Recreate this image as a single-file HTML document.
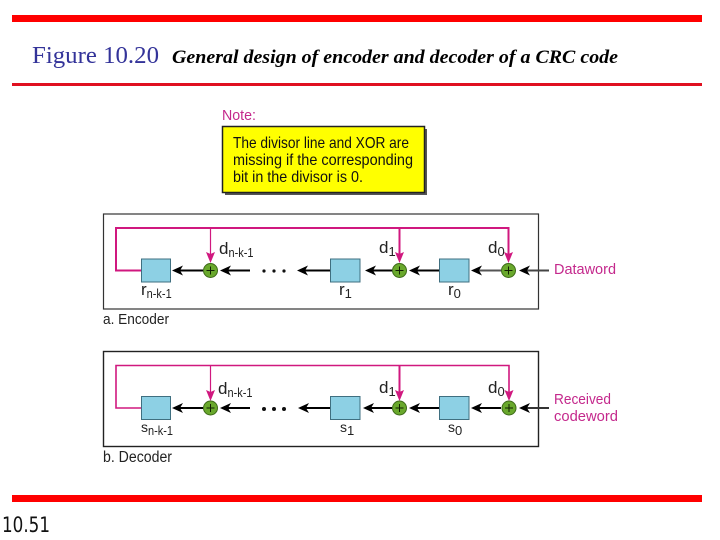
<!DOCTYPE html>
<html>
<head>
<meta charset="utf-8">
<style>
html,body{margin:0;padding:0;background:#fff}
svg{display:block}
.s{font-family:"Liberation Sans",sans-serif}
</style>
</head>
<body>
<svg width="720" height="540" viewBox="0 0 720 540" xmlns="http://www.w3.org/2000/svg">
<rect width="720" height="540" fill="#fff"/>
<rect x="12" y="15" width="690" height="7" fill="#f00"/>
<rect x="12" y="83" width="690" height="3" fill="#e01020"/>
<rect x="12" y="495" width="690" height="7" fill="#f00"/>
<text x="32" y="63" font-family="Liberation Serif,serif" font-size="24" fill="#333399" textLength="127" lengthAdjust="spacingAndGlyphs">Figure 10.20</text>
<text x="172" y="63" font-family="Liberation Serif,serif" font-size="19" font-weight="bold" font-style="italic" fill="#000" textLength="446" lengthAdjust="spacingAndGlyphs">General design of encoder and decoder of a CRC code</text>
<text x="2" y="532" font-family="DejaVu Sans,sans-serif" font-size="21" fill="#111" textLength="48" lengthAdjust="spacingAndGlyphs">10.51</text>

<text class="s" x="222" y="120" font-size="15" fill="#c4288c" textLength="34" lengthAdjust="spacingAndGlyphs">Note:</text>
<rect x="225" y="129" width="202" height="66" fill="#555"/>
<rect x="222.500" y="126.500" width="202" height="66" fill="#ffff00" stroke="#222" stroke-width="1.500"/>
<g class="s" font-size="16" fill="#111">
<text x="233" y="148" textLength="176" lengthAdjust="spacingAndGlyphs">The divisor line and XOR are</text>
<text x="233" y="165" textLength="180" lengthAdjust="spacingAndGlyphs">missing if the corresponding</text>
<text x="233" y="182" textLength="130" lengthAdjust="spacingAndGlyphs">bit in the divisor is 0.</text>
</g>

<!-- Encoder -->
<rect x="103.500" y="214" width="435" height="95" fill="#fff" stroke="#333" stroke-width="1.200"/>
<g fill="none" stroke="#d0187f">
<path d="M141 270.500H116V228H508.500V254" stroke-width="2"/>
<path d="M210.500 228V254" stroke-width="1.200"/>
<path d="M399.500 228V254" stroke-width="2"/>
</g>
<g fill="#d0187f">
<path d="M206 252L210.500 263L215 252L210.500 254Z"/>
<path d="M395 252L399.500 263L404 252L399.500 254Z"/>
<path d="M504 252L508.500 263L513 252L508.500 254Z"/>
</g>
<g stroke="#000" stroke-width="2" fill="none">
<path d="M203 270.500H178"/>
<path d="M250 270.500H226"/>
<path d="M330 270.500H304"/>
<path d="M392 270.500H370"/>
<path d="M439 270.500H414"/>
<path d="M501 270.500H476" stroke="#555"/>
<path d="M549 270.500H524" stroke="#444"/>
</g>
<g fill="#000">
<path d="M172 270.500L183 265.500L180 270.500L183 275.500Z"/>
<path d="M220 270.500L231 265.500L228 270.500L231 275.500Z"/>
<path d="M297 270.500L308 265.500L305 270.500L308 275.500Z"/>
<path d="M365 270.500L376 265.500L373 270.500L376 275.500Z"/>
<path d="M409 270.500L420 265.500L417 270.500L420 275.500Z"/>
<path d="M471 270.500L482 265.500L479 270.500L482 275.500Z"/>
<path d="M519 270.500L530 265.500L527 270.500L530 275.500Z"/>
</g>
<g fill="#8dd0e4" stroke="#3f6f80">
<rect x="141.500" y="259" width="29" height="23"/>
<rect x="330.500" y="259" width="29.500" height="23"/>
<rect x="439.500" y="259" width="29.500" height="23"/>
</g>
<g fill="#69a82c" stroke="#3d6a18">
<circle cx="210.500" cy="270.500" r="7"/>
<circle cx="399.500" cy="270.500" r="7"/>
<circle cx="508.500" cy="270.500" r="7"/>
</g>
<g stroke="#102000" stroke-width="1" fill="none">
<path d="M206.500 270.500h8M210.500 266.500v8M395.500 270.500h8M399.500 266.500v8M504.500 270.500h8M508.500 266.500v8"/>
</g>
<g fill="#111">
<circle cx="264" cy="271" r="1.600"/><circle cx="274" cy="271" r="1.600"/><circle cx="284" cy="271" r="1.600"/>
</g>
<g class="s" fill="#222" font-size="17">
<text x="219" y="254">d<tspan font-size="13" dy="3" textLength="25" lengthAdjust="spacingAndGlyphs">n-k-1</tspan></text>
<text x="379" y="253">d<tspan font-size="13" dy="3">1</tspan></text>
<text x="488" y="253">d<tspan font-size="13" dy="3">0</tspan></text>
<text x="141" y="295">r<tspan font-size="13" dy="3" textLength="25" lengthAdjust="spacingAndGlyphs">n-k-1</tspan></text>
<text x="339" y="295">r<tspan font-size="13" dy="3">1</tspan></text>
<text x="448" y="295">r<tspan font-size="13" dy="3">0</tspan></text>
<text x="103" y="324" font-size="15" textLength="66" lengthAdjust="spacingAndGlyphs">a. Encoder</text>
</g>
<text class="s" x="554" y="274" font-size="15" fill="#c4288c" textLength="62" lengthAdjust="spacingAndGlyphs">Dataword</text>

<!-- Decoder -->
<rect x="103.500" y="351.500" width="435" height="95" fill="#fff" stroke="#222" stroke-width="1.400"/>
<g fill="none" stroke="#d0187f">
<path d="M141 408H116V365.500H509V392" stroke-width="1.600"/>
<path d="M210.500 365.500V392" stroke-width="1.200"/>
<path d="M399.500 365.500V392" stroke-width="2"/>
</g>
<g fill="#d0187f">
<path d="M206 390L210.500 401L215 390L210.500 392Z"/>
<path d="M395 390L399.500 401L404 390L399.500 392Z"/>
<path d="M504.500 390L509 401L513.500 390L509 392Z"/>
</g>
<g stroke="#000" stroke-width="2" fill="none">
<path d="M203 408H178"/>
<path d="M250 408H226"/>
<path d="M330 408H304"/>
<path d="M392 408H369"/>
<path d="M439 408H415"/>
<path d="M501 408H477"/>
<path d="M549 408H525" stroke="#333"/>
</g>
<g fill="#000">
<path d="M172 408L183 403L180 408L183 413Z"/>
<path d="M220 408L231 403L228 408L231 413Z"/>
<path d="M298 408L309 403L306 408L309 413Z"/>
<path d="M363 408L374 403L371 408L374 413Z"/>
<path d="M409 408L420 403L417 408L420 413Z"/>
<path d="M471 408L482 403L479 408L482 413Z"/>
<path d="M519 408L530 403L527 408L530 413Z"/>
</g>
<g fill="#8dd0e4" stroke="#3f6f80">
<rect x="141.500" y="396.500" width="29" height="23"/>
<rect x="330.500" y="396.500" width="29.500" height="23"/>
<rect x="439.500" y="396.500" width="29.500" height="23"/>
</g>
<g fill="#69a82c" stroke="#3d6a18">
<circle cx="210.500" cy="408" r="7"/>
<circle cx="399.500" cy="408" r="7"/>
<circle cx="509" cy="408" r="7"/>
</g>
<g stroke="#102000" stroke-width="1" fill="none">
<path d="M206.500 408h8M210.500 404v8M395.500 408h8M399.500 404v8M505 408h8M509 404v8"/>
</g>
<g fill="#111">
<circle cx="264" cy="409" r="2"/><circle cx="274" cy="409" r="2"/><circle cx="284" cy="409" r="2"/>
</g>
<g class="s" fill="#222" font-size="17">
<text x="218" y="394">d<tspan font-size="13" dy="3" textLength="25" lengthAdjust="spacingAndGlyphs">n-k-1</tspan></text>
<text x="379" y="393">d<tspan font-size="13" dy="3">1</tspan></text>
<text x="488" y="393">d<tspan font-size="13" dy="3">0</tspan></text>
<text x="141" y="432" font-size="14">s<tspan font-size="13" dy="3" textLength="25" lengthAdjust="spacingAndGlyphs">n-k-1</tspan></text>
<text x="340" y="432" font-size="14">s<tspan font-size="13" dy="3">1</tspan></text>
<text x="448" y="432" font-size="14">s<tspan font-size="13" dy="3">0</tspan></text>
<text x="103" y="462" font-size="15.500" textLength="69" lengthAdjust="spacingAndGlyphs">b. Decoder</text>
</g>
<g class="s" font-size="15" fill="#c4288c">
<text x="554" y="404" textLength="57" lengthAdjust="spacingAndGlyphs">Received</text>
<text x="554" y="421" textLength="64" lengthAdjust="spacingAndGlyphs">codeword</text>
</g>
</svg>
</body>
</html>
